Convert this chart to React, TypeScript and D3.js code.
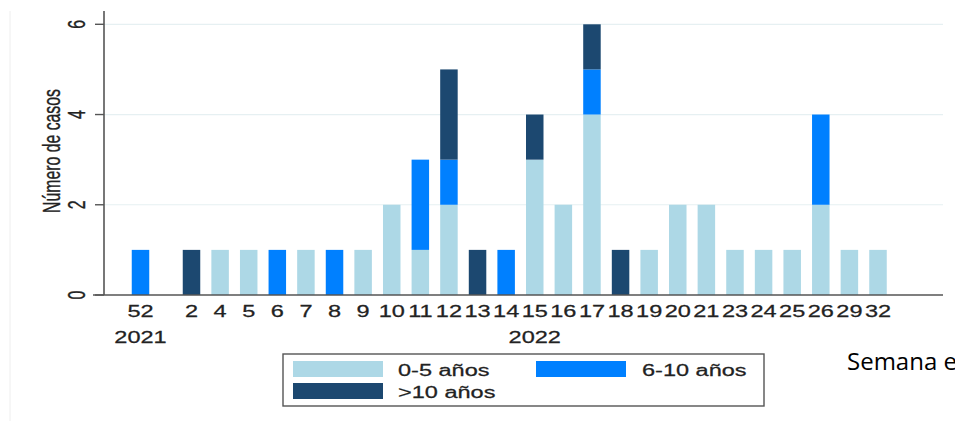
import React from "react";
import * as d3 from "d3";

// ---- data ----
const weeks = ["52", "2", "4", "5", "6", "7", "8", "9", "10", "11", "12", "13", "14", "15", "16", "17", "18", "19", "20", "21", "23", "24", "25", "26", "29", "32"];
const years = ["2021", "2022", "2022", "2022", "2022", "2022", "2022", "2022", "2022", "2022", "2022", "2022", "2022", "2022", "2022", "2022", "2022", "2022", "2022", "2022", "2022", "2022", "2022", "2022", "2022", "2022"];
const age0to5 = [0, 0, 1, 1, 0, 1, 0, 1, 2, 1, 2, 0, 0, 3, 2, 4, 0, 1, 2, 2, 1, 1, 1, 2, 1, 1];
const age6to10 = [1, 0, 0, 0, 1, 0, 1, 0, 0, 2, 1, 0, 1, 0, 0, 1, 0, 0, 0, 0, 0, 0, 0, 2, 0, 0];
const ageOver10 = [0, 1, 0, 0, 0, 0, 0, 0, 0, 0, 2, 1, 0, 1, 0, 1, 1, 0, 0, 0, 0, 0, 0, 0, 0, 0];
const seriesNames = ["0-5 años", "6-10 años", ">10 años"];
const seriesColors = ["#add8e6", "#0080ff", "#1c4870"];
const yTicks = [0, 2, 4, 6];
const yTitle = "Número de casos";
const xTitle = "Semana epidemiológica";

// ---- layout ----
const W = 955;
const H = 421;
const GROUP_GAP = 0.783;
const SX = 1.47; // horizontal stretch of the original picture
const FS = 16;
const TXT = "#222";
const AX = "#555";

export default function App() {
  const positions = weeks.map((_, i) => i + (years[i] !== years[0] ? GROUP_GAP : 0));
  const x = d3.scaleLinear().domain([0, positions[positions.length - 1]]).range([140.5, 878]);
  const y = d3.scaleLinear().domain([0, 6]).range([295, 24.3]);
  const barW = 17.5;

  const rows = weeks.map((w, i) => ({ week: w, a: age0to5[i], b: age6to10[i], c: ageOver10[i], pos: positions[i] }));
  const stack = d3.stack<any>().keys(["a", "b", "c"])(rows);

  const yearGroups = Array.from(d3.group(weeks.map((w, i) => ({ y: years[i], p: positions[i] })), (d) => d.y), ([yr, arr]) => ({
    yr,
    center: (x(d3.min(arr, (d) => d.p)!) + x(d3.max(arr, (d) => d.p)!)) / 2,
  }));

  const plotL = 104;
  const plotR = 943;
  const font = "'Liberation Sans', Arial, sans-serif";
  const textProps = { fontSize: FS, fill: TXT, stroke: TXT, strokeWidth: 0.25 };

  const legendItems = [
    { name: seriesNames[0], color: seriesColors[0], sx: 293, tx: 398, ty: 361 },
    { name: seriesNames[1], color: seriesColors[1], sx: 536, tx: 642, ty: 361 },
    { name: seriesNames[2], color: seriesColors[2], sx: 293, tx: 398, ty: 383 },
  ];

  return (
    <svg width={W} height={H} style={{ position: "absolute", left: 0, top: 0, background: "#fff" }} fontFamily={font}>
      <rect x={0} y={0} width={W} height={H} fill="#fff" />
      <line x1={10} x2={10} y1={11} y2={H} stroke="#eeeeee" strokeWidth={1} />
      {/* grid */}
      {yTicks.filter((t) => t > 0).map((t) => (
        <line key={"g" + t} x1={plotL} x2={plotR} y1={y(t)} y2={y(t)} stroke="#e6f0f2" strokeWidth={1.2} />
      ))}
      {/* bars */}
      {stack.map((layer, si) => (
        <g key={si} fill={seriesColors[si]}>
          {layer.map((d, i) =>
            d[1] - d[0] > 0 ? (
              <rect key={i} x={x(rows[i].pos) - barW / 2} width={barW} y={y(d[1])} height={y(d[0]) - y(d[1])} />
            ) : null
          )}
        </g>
      ))}
      {/* axes */}
      <line x1={plotL} x2={plotL} y1={11} y2={y(0)} stroke={AX} strokeWidth={1.6} />
      <line x1={93} x2={plotR} y1={y(0)} y2={y(0)} stroke={AX} strokeWidth={1.6} />
      {yTicks.map((t) => (
        <g key={"t" + t}>
          <line x1={95} x2={plotL} y1={y(t)} y2={y(t)} stroke={AX} strokeWidth={1.4} />
          <text transform={`translate(85,${y(t)}) scale(${SX},1) rotate(-90)`} textAnchor="middle" {...textProps}>
            {t}
          </text>
        </g>
      ))}
      <text transform={`translate(60,151) scale(${SX},1) rotate(-90)`} textAnchor="middle" {...textProps} fontSize={15.8}>
        {yTitle}
      </text>
      {/* x labels */}
      {rows.map((r, i) => (
        <text key={"x" + i} transform={`translate(${x(r.pos)},317) scale(${SX},1)`} textAnchor="middle" {...textProps}>
          {r.week}
        </text>
      ))}
      {yearGroups.map((g) => (
        <text key={g.yr} transform={`translate(${g.center},343) scale(${SX},1)`} textAnchor="middle" {...textProps}>
          {g.yr}
        </text>
      ))}
      {/* legend */}
      <rect x={283} y={354} width={481} height={52} fill="#fff" stroke={AX} strokeWidth={1.4} />
      {legendItems.map((l) => (
        <g key={l.name}>
          <rect x={l.sx} y={l.ty} width={90} height={16} fill={l.color} />
          <text transform={`translate(${l.tx},${l.ty + 14.5}) scale(${SX},1)`} {...textProps}>
            {l.name}
          </text>
        </g>
      ))}
      <text x={847} y={370} fontSize={24} fontFamily="'Open Sans', 'Noto Sans', sans-serif" fill="#000">
        {xTitle}
      </text>
    </svg>
  );
}
